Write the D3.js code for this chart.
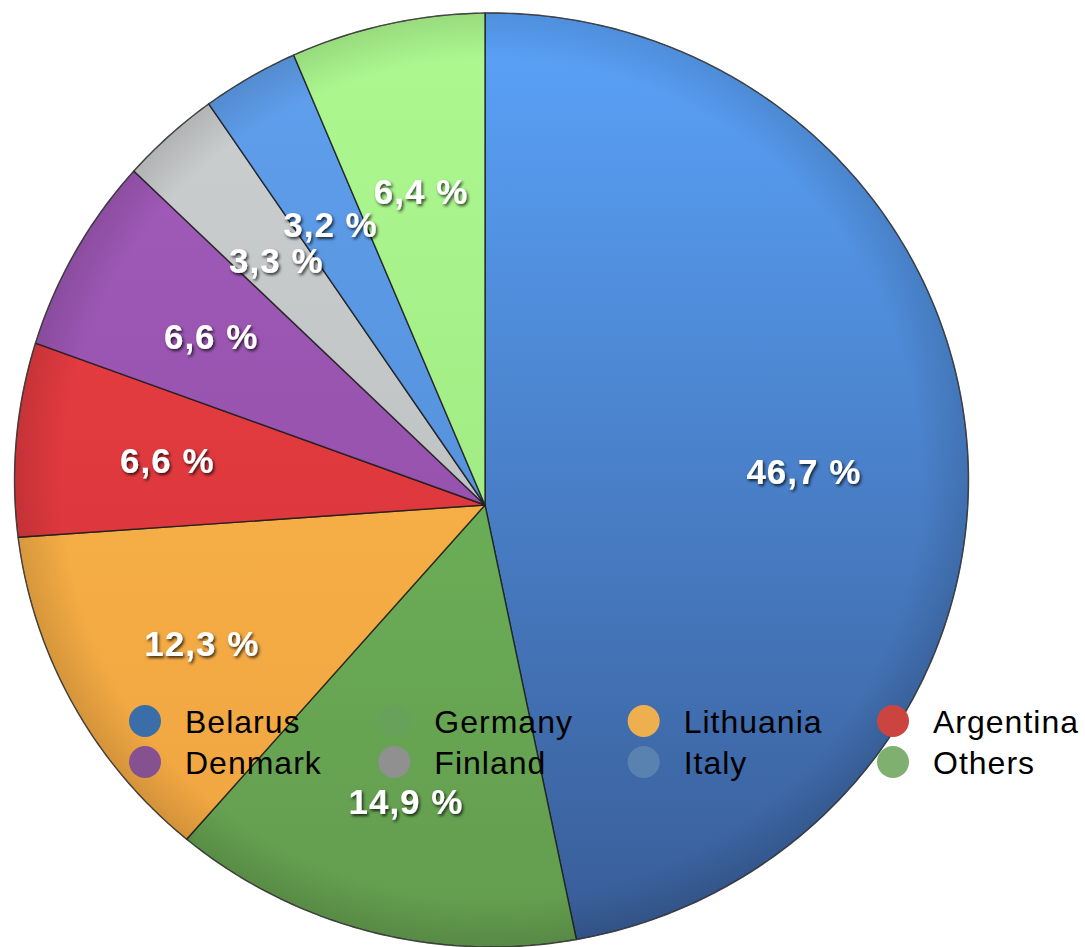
<!DOCTYPE html>
<html>
<head>
<meta charset="utf-8">
<script src="https://cdn.jsdelivr.net/npm/d3@7"></script>
<style>
  html, body { margin: 0; padding: 0; background: #ffffff; }
  svg { display: block; }
</style>
</head>
<body>
<svg id="chart" width="1085" height="947"></svg>
<script>
// Shares by country, in percent, drawn clockwise from 12 o'clock
const countries = ["Belarus", "Germany", "Lithuania", "Argentina", "Denmark", "Finland", "Italy", "Others"];
const shares    = [46.7, 14.9, 12.3, 6.6, 6.6, 3.3, 3.2, 6.4];
const labels    = ["46,7 %", "14,9 %", "12,3 %", "6,6 %", "6,6 %", "3,3 %", "3,2 %", "6,4 %"];

// Slice fills (top / bottom of the gradient) and legend swatches
const topColors    = ["#5aa3fa", "#74c060", "#fdb84c", "#ec3f44", "#a45cbd", "#cdd0d0", "#60a0ee", "#adf990"];
const bottomColors = ["#385c96", "#639c4e", "#efa440", "#d23338", "#8a4a9e", "#b4b8b8", "#4e86cc", "#98e07a"];
const legendColors = ["#3b6ea8", "#68a15a", "#eeb04e", "#cc4440", "#855191", "#909090", "#5a82b0", "#80b070"];

const svg = d3.select("#chart");
const defs = svg.append("defs");

// Tilted pie: slices meet at the apex; rim and label ring are ellipses
// whose centres sit a little above it
const apex     = { x: 485, y: 505 };
const rim      = { cx: 491.5, cy: 480, rx: 477, ry: 467 };
const labelRing = { cx: 485, cy: 498, rx: 320, ry: 313 };

// Point where the ray leaving the apex at angle theta meets ellipse e
function rayPoint(theta, e) {
  const dx = Math.sin(theta), dy = -Math.cos(theta);
  const ox = (apex.x - e.cx) / e.rx, oy = (apex.y - e.cy) / e.ry;
  const ux = dx / e.rx, uy = dy / e.ry;
  const a = ux * ux + uy * uy;
  const b = 2 * (ox * ux + oy * uy);
  const c = ox * ox + oy * oy - 1;
  const s = (-b + Math.sqrt(b * b - 4 * a * c)) / (2 * a);
  return [apex.x + s * dx, apex.y + s * dy];
}

const pie = d3.pie().sort(null).value(d => d)(shares);
const line = d3.line();

function slicePath(d) {
  const n = Math.max(8, Math.ceil((d.endAngle - d.startAngle) / 0.01));
  const pts = [[apex.x, apex.y]];
  for (let i = 0; i <= n; i++) {
    pts.push(rayPoint(d.startAngle + (d.endAngle - d.startAngle) * i / n, rim));
  }
  return line(pts) + "Z";
}

// Vertical shading per slice
pie.forEach((d, i) => {
  const g = defs.append("linearGradient")
    .attr("id", "grad" + i)
    .attr("gradientUnits", "userSpaceOnUse")
    .attr("x1", 0).attr("y1", rim.cy - rim.ry)
    .attr("x2", 0).attr("y2", rim.cy + rim.ry);
  g.append("stop").attr("offset", "0%").attr("stop-color", topColors[i]);
  g.append("stop").attr("offset", "100%").attr("stop-color", bottomColors[i]);
});

// Darkened rim
const rg = defs.append("radialGradient")
  .attr("id", "rimShade")
  .attr("gradientUnits", "userSpaceOnUse")
  .attr("cx", rim.cx).attr("cy", rim.cy).attr("r", rim.rx)
  .attr("gradientTransform", `translate(${rim.cx},${rim.cy}) scale(1,${rim.ry / rim.rx}) translate(${-rim.cx},${-rim.cy})`);
rg.append("stop").attr("offset", "90%").attr("stop-color", "#000").attr("stop-opacity", 0);
rg.append("stop").attr("offset", "100%").attr("stop-color", "#000").attr("stop-opacity", 0.12);

// Shadow behind value labels
const f = defs.append("filter").attr("id", "txtShadow")
  .attr("x", "-20%").attr("y", "-30%").attr("width", "140%").attr("height", "160%");
f.append("feDropShadow").attr("dx", 1.5).attr("dy", 2).attr("stdDeviation", 1.6)
  .attr("flood-color", "#000").attr("flood-opacity", 0.75);

const pieG = svg.append("g");
pieG.selectAll("path.slice")
  .data(pie)
  .join("path")
  .attr("class", "slice")
  .attr("d", slicePath)
  .attr("fill", (d, i) => `url(#grad${i})`)
  .attr("stroke", "#1c1c1c")
  .attr("stroke-opacity", 0.85)
  .attr("stroke-width", 1.4)
  .attr("stroke-linejoin", "round");

pieG.append("ellipse")
  .attr("cx", rim.cx).attr("cy", rim.cy)
  .attr("rx", rim.rx).attr("ry", rim.ry)
  .attr("fill", "url(#rimShade)")
  .attr("stroke", "#555")
  .attr("stroke-opacity", 0.5)
  .attr("stroke-width", 1);

// Value labels, placed on the label ring at each slice's mid angle
svg.append("g")
  .selectAll("text")
  .data(pie)
  .join("text")
  .attr("transform", d => {
    const [x, y] = rayPoint((d.startAngle + d.endAngle) / 2, labelRing);
    return `translate(${x},${y})`;
  })
  .attr("text-anchor", "middle")
  .attr("dy", "0.36em")
  .attr("font-family", "'Liberation Sans', Arial, sans-serif")
  .attr("font-weight", "bold")
  .attr("font-size", 35)
  .attr("letter-spacing", 1)
  .attr("fill", "#ffffff")
  .attr("filter", "url(#txtShadow)")
  .text((d, i) => labels[i]);

// Legend: four columns, two rows
const colX = d3.scalePoint().domain([0, 1, 2, 3]).range([145, 893]);
const rowY = d3.scalePoint().domain([0, 1]).range([721, 762]);
const legend = svg.append("g")
  .selectAll("g")
  .data(countries)
  .join("g")
  .attr("transform", (d, i) => `translate(${colX(i % 4)},${rowY(Math.floor(i / 4))})`);
legend.append("circle").attr("r", 16).attr("fill", (d, i) => legendColors[i]);
legend.append("text")
  .attr("x", 40)
  .attr("dy", "0.36em")
  .attr("font-family", "'Liberation Sans', Arial, sans-serif")
  .attr("font-size", 32)
  .attr("letter-spacing", 1)
  .attr("fill", "#000")
  .text(d => d);
</script>
</body>
</html>
